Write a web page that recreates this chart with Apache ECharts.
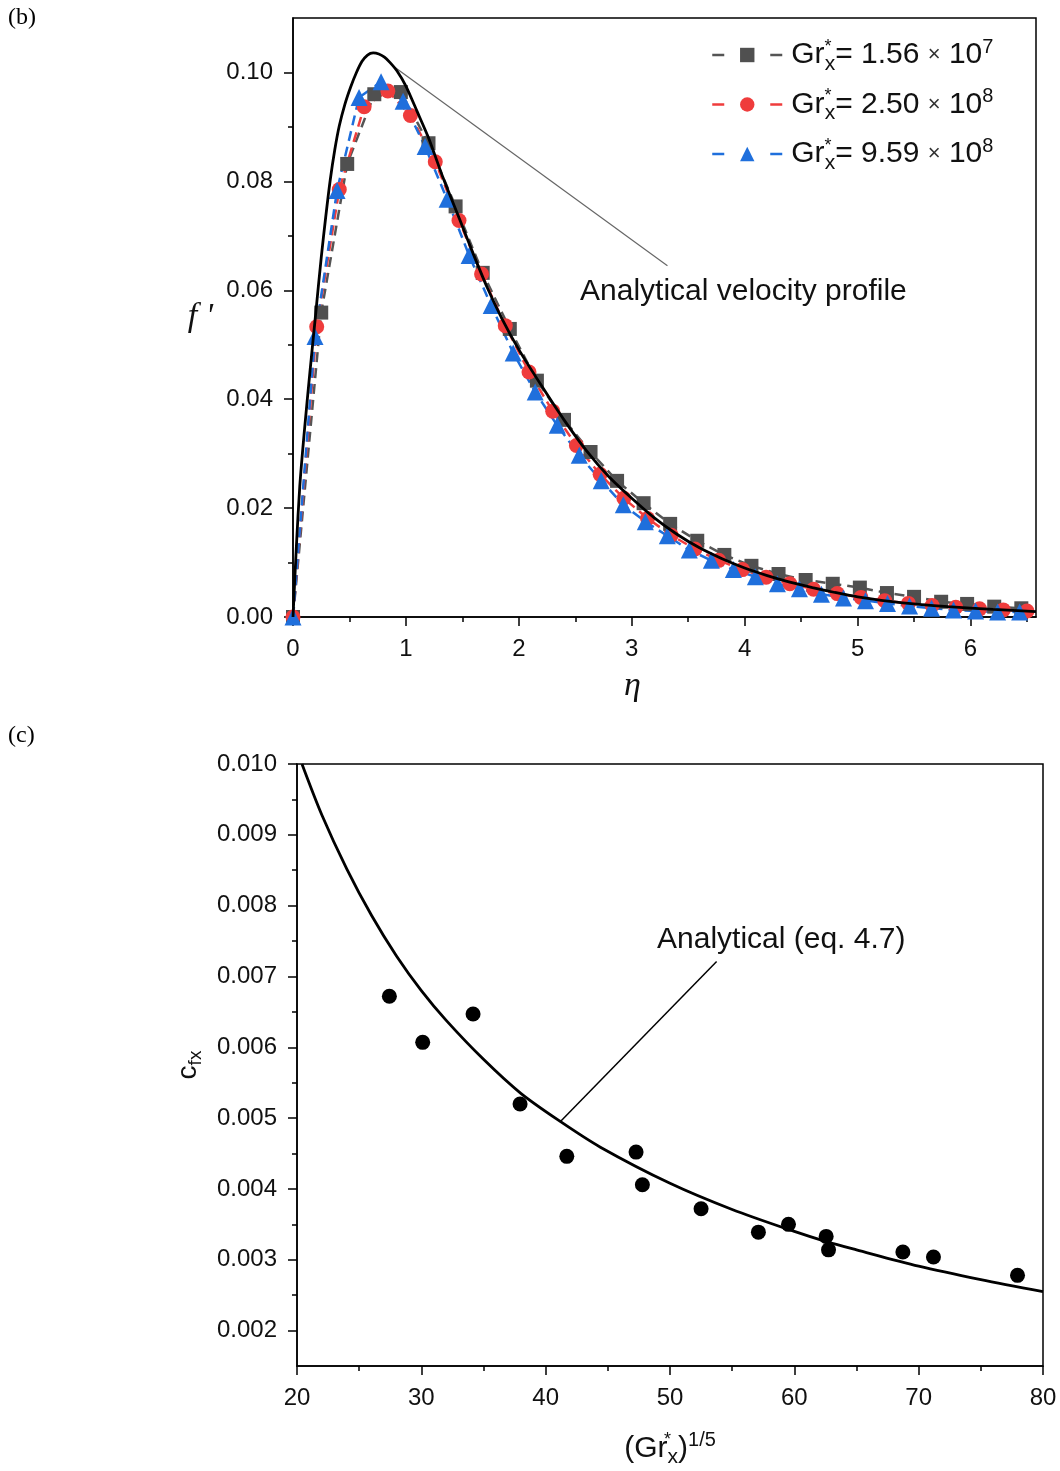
<!DOCTYPE html>
<html><head><meta charset="utf-8">
<script src="https://cdn.jsdelivr.net/npm/echarts@6/dist/echarts.min.js"></script>
<style>html,body{margin:0;padding:0;background:#fff}#c{width:1060px;height:1471px}</style>
</head><body><div id="c"></div>
<script>
// ---------- Panel (b) data ----------
const seriesNames = ['Gr1', 'Gr2', 'Gr3'];
const legendLabels = [
  '{g|Gr}{st|*}{sb|x}{g|= 1.56 }{tm|×}{g| 10}{sp|7}',
  '{g|Gr}{st|*}{sb|x}{g|= 2.50 }{tm|×}{g| 10}{sp|8}',
  '{g|Gr}{st|*}{sb|x}{g|= 9.59 }{tm|×}{g| 10}{sp|8}'
];
const grayEta = [0, 0.25, 0.48, 0.72, 0.955, 1.20, 1.44, 1.68, 1.92, 2.16, 2.40, 2.635, 2.87, 3.105, 3.34, 3.58, 3.82, 4.06, 4.30, 4.54, 4.78, 5.02, 5.26, 5.50, 5.74, 5.97, 6.21, 6.45];
const grayF   = [0, 0.0559, 0.0832, 0.0960, 0.0964, 0.0870, 0.0754, 0.0632, 0.0529, 0.0434, 0.0362, 0.0303, 0.0250, 0.0209, 0.0171, 0.0140, 0.0114, 0.0094, 0.0079, 0.0068, 0.0061, 0.0054, 0.0044, 0.0037, 0.0028, 0.0024, 0.0019, 0.0016];
const redEta = [0, 0.21, 0.41, 0.63, 0.84, 1.04, 1.26, 1.47, 1.67, 1.88, 2.09, 2.30, 2.51, 2.72, 2.93, 3.14, 3.35, 3.56, 3.77, 3.98, 4.19, 4.40, 4.61, 4.82, 5.03, 5.24, 5.45, 5.66, 5.87, 6.08, 6.29, 6.50];
const redF   = [0, 0.0533, 0.0785, 0.0937, 0.0966, 0.0921, 0.0836, 0.0728, 0.0630, 0.0535, 0.0450, 0.0378, 0.0315, 0.0262, 0.0218, 0.0181, 0.0150, 0.0125, 0.0104, 0.0087, 0.0073, 0.0061, 0.0051, 0.0043, 0.0036, 0.0030, 0.0025, 0.0021, 0.0018, 0.0015, 0.0013, 0.0011];
const blueEta = [0, 0.195, 0.39, 0.585, 0.78, 0.975, 1.17, 1.365, 1.56, 1.755, 1.95, 2.145, 2.34, 2.535, 2.73, 2.925, 3.12, 3.315, 3.51, 3.705, 3.90, 4.095, 4.29, 4.485, 4.68, 4.875, 5.07, 5.265, 5.46, 5.655, 5.85, 6.045, 6.24, 6.435];
const blueF   = [0, 0.0515, 0.0783, 0.0954, 0.0983, 0.0947, 0.0864, 0.0767, 0.0664, 0.0572, 0.0485, 0.0413, 0.0352, 0.0297, 0.0250, 0.0206, 0.0175, 0.0149, 0.0123, 0.0104, 0.0087, 0.0074, 0.0061, 0.0052, 0.0042, 0.0035, 0.0030, 0.0025, 0.0020, 0.0016, 0.0013, 0.0011, 0.0009, 0.0009];
const anaEta = [0, 0.03, 0.06, 0.1, 0.15, 0.2, 0.25, 0.29, 0.33, 0.37, 0.41, 0.46, 0.51, 0.56, 0.61, 0.66, 0.71, 0.76, 0.81, 0.86, 0.92, 1.0, 1.1, 1.2, 1.33, 1.48, 1.6, 1.72, 1.85, 2.0, 2.2, 2.4, 2.6, 2.8, 3.0, 3.2, 3.4, 3.6, 3.8, 4.0, 4.2, 4.4, 4.6, 4.8, 5.0, 5.4, 5.8, 6.2, 6.58];
const anaF   = [0, 0.013, 0.024, 0.034, 0.0450, 0.0555, 0.0660, 0.0735, 0.0803, 0.0858, 0.0902, 0.0942, 0.0973, 0.0999, 0.1020, 0.1032, 0.1036, 0.1034, 0.1028, 0.1018, 0.1003, 0.0975, 0.0928, 0.0880, 0.0806, 0.0728, 0.0665, 0.0605, 0.0548, 0.0491, 0.0425, 0.0362, 0.0305, 0.0257, 0.0218, 0.0182, 0.0152, 0.0127, 0.0107, 0.0090, 0.0076, 0.0064, 0.0054, 0.0045, 0.0037, 0.0026, 0.0019, 0.0014, 0.0010];
const leaderTopEta = [0.904, 3.316];
const leaderTopF   = [0.1009, 0.0645];
const bXTicks = [0, 1, 2, 3, 4, 5, 6];
const bXMinor = [0.5, 1.5, 2.5, 3.5, 4.5, 5.5, 6.5];
const bYTicks = [0, 0.02, 0.04, 0.06, 0.08, 0.10];
const bYMinor = [0.01, 0.03, 0.05, 0.07, 0.09];

// ---------- Panel (c) data ----------
const grX = [27.43, 30.11, 34.16, 37.94, 41.70, 47.27, 47.78, 52.50, 57.11, 59.53, 62.56, 62.75, 68.73, 71.19, 77.95];
const cfx = [0.00672, 0.00607, 0.00647, 0.00520, 0.00446, 0.00452, 0.00406, 0.00372, 0.00339, 0.00350, 0.00333, 0.00314, 0.00311, 0.00304, 0.00278];
const anaGrX = [20.4, 22, 24, 26, 28, 30, 32, 35, 38, 41.2, 44.4, 50, 55, 60, 62.5, 65, 70, 75, 80];
const anaCfx = [0.01000, 0.00928, 0.00852, 0.00786, 0.00729, 0.00680, 0.00638, 0.00583, 0.00535, 0.00495, 0.00459, 0.00408, 0.00371, 0.00340, 0.00326, 0.00314, 0.00291, 0.00272, 0.00255];
const leaderBotX = [41.21, 53.75];
const leaderBotY = [0.004955, 0.00721];
const cXTicks = [20, 30, 40, 50, 60, 70, 80];
const cXMinor = [25, 35, 45, 55, 65, 75];
const cYTicks = [0.002, 0.003, 0.004, 0.005, 0.006, 0.007, 0.008, 0.009, 0.010];
const cYMinor = [0.0025, 0.0035, 0.0045, 0.0055, 0.0065, 0.0075, 0.0085, 0.0095];

const zip = (a, b) => a.map((v, i) => [v, b[i]]);
const SANS = 'Liberation Sans, Arial, sans-serif';
const SERIF = 'Liberation Serif, Times New Roman, serif';
const axLine = { show: true, lineStyle: { color: '#000', width: 1.5 } };

function majorAxis(grid, min, max, ticks, fmt, extra) {
  return Object.assign({
    type: 'value', gridIndex: grid, min: min, max: max,
    axisLine: axLine,
    axisTick: { show: true, inside: false, length: 9, customValues: ticks, lineStyle: { color: '#000', width: 1.5 } },
    axisLabel: { show: true, customValues: ticks, formatter: fmt, fontSize: 24, fontFamily: SANS, color: '#111', margin: 20 },
    splitLine: { show: false }
  }, extra || {});
}
function minorAxis(grid, min, max, ticks, pos) {
  return {
    type: 'value', gridIndex: grid, min: min, max: max, position: pos,
    axisLine: { show: false },
    axisTick: { show: true, inside: false, length: 5, customValues: ticks, lineStyle: { color: '#000', width: 1.5 } },
    axisLabel: { show: false },
    splitLine: { show: false }
  };
}

const chart = echarts.init(document.getElementById('c'), null, { renderer: 'canvas' });
const rich = {
  g: { fontSize: 30, fontFamily: SANS, color: '#111' },
  tm: { fontSize: 22, fontFamily: SANS, color: '#333' },
  st: { fontSize: 18, fontFamily: SANS, color: '#111', width: 0.1, padding: [0, 0, 16, 0] },
  sb: { fontSize: 21, fontFamily: SANS, color: '#111', padding: [18, 0, 0, 0] },
  sp: { fontSize: 20, fontFamily: SANS, color: '#111', padding: [0, 0, 16, 0] },
  c: { fontSize: 28, fontFamily: SANS, color: '#111' }
};

chart.setOption({
  animation: false,
  backgroundColor: '#fff',
  grid: [
    { left: 293, top: 18, width: 743, height: 599, show: true, borderColor: '#000', borderWidth: 1.5, backgroundColor: 'transparent' },
    { left: 297, top: 764, width: 746, height: 602, show: true, borderColor: '#000', borderWidth: 1.5, backgroundColor: 'transparent' }
  ],
  legend: {
    data: seriesNames,
    orient: 'vertical', left: 706, top: 32,
    itemWidth: 70, itemHeight: 18, itemGap: 12,
    lineStyle: { type: [12, 46], width: 2.5 },
    formatter: name => legendLabels[seriesNames.indexOf(name)],
    textStyle: { fontSize: 30, fontFamily: SANS, color: '#111', rich: rich, padding: [0, 0, 0, 4] }
  },
  xAxis: [
    majorAxis(0, 0, 6.58, bXTicks, v => String(v), {
      name: 'η', nameLocation: 'middle', nameGap: 52,
      nameTextStyle: { fontFamily: SERIF, fontStyle: 'italic', fontSize: 34, color: '#111', padding: [0, 64, 0, 0] }
    }),
    minorAxis(0, 0, 6.58, bXMinor, 'bottom'),
    majorAxis(1, 20, 80, cXTicks, v => String(v), {
      name: '{p|(}{g|Gr}{st|*}{sb|x}{p|)}{sp|1/5}', nameLocation: 'middle', nameGap: 63,
      nameTextStyle: { fontSize: 30, fontFamily: SANS, color: '#111', rich: Object.assign({ p: { fontSize: 30, fontFamily: SANS, color: '#111' } }, rich) }
    }),
    minorAxis(1, 20, 80, cXMinor, 'bottom')
  ],
  yAxis: [
    majorAxis(0, 0, 0.11, bYTicks, v => v.toFixed(2), {
      name: "f '", nameLocation: 'middle', nameRotate: 0, nameGap: 80,
      nameTextStyle: { fontFamily: SERIF, fontStyle: 'italic', fontSize: 34, color: '#111' }
    }),
    minorAxis(0, 0, 0.11, bYMinor, 'left'),
    majorAxis(1, 0.0015, 0.010, cYTicks, v => v.toFixed(3), {
      name: '{c|c}{sb|fx}', nameLocation: 'middle', nameRotate: 90, nameGap: 92,
      nameTextStyle: { fontSize: 28, fontFamily: SANS, color: '#111', rich: { c: rich.c, sb: { fontSize: 19, fontFamily: SANS, color: '#111', padding: [14, 0, 0, 0] } } }
    }),
    minorAxis(1, 0.0015, 0.010, cYMinor, 'left')
  ],
  series: [
    { name: 'Analytical', type: 'line', xAxisIndex: 0, yAxisIndex: 0, data: zip(anaEta, anaF), showSymbol: false, symbol: 'none', smooth: 0.25, lineStyle: { color: '#000', width: 2.8 }, z: 5 },
    { name: 'leaderTop', type: 'line', xAxisIndex: 0, yAxisIndex: 0, data: zip(leaderTopEta, leaderTopF), symbol: 'none', lineStyle: { color: '#666', width: 1.2 }, silent: true },
    { name: seriesNames[0], type: 'line', xAxisIndex: 0, yAxisIndex: 0, data: zip(grayEta, grayF), symbol: 'rect', symbolSize: 14, lineStyle: { color: '#555', width: 2.5, type: [10, 6] }, itemStyle: { color: '#505050' }, z: 3 },
    { name: seriesNames[1], type: 'line', xAxisIndex: 0, yAxisIndex: 0, data: zip(redEta, redF), symbol: 'circle', symbolSize: 15, lineStyle: { color: '#ef3c3c', width: 2.5, type: [10, 6] }, itemStyle: { color: '#ef3c3c' }, z: 3 },
    { name: seriesNames[2], type: 'line', xAxisIndex: 0, yAxisIndex: 0, data: zip(blueEta, blueF), symbol: 'triangle', symbolSize: 17, lineStyle: { color: '#1f6fdc', width: 2.5, type: [10, 6] }, itemStyle: { color: '#1f6fdc' }, z: 3 },
    { name: 'cfx', type: 'scatter', xAxisIndex: 2, yAxisIndex: 2, data: zip(grX, cfx), symbol: 'circle', symbolSize: 15, itemStyle: { color: '#000', opacity: 1 } },
    { name: 'AnalyticalC', type: 'line', xAxisIndex: 2, yAxisIndex: 2, data: zip(anaGrX, anaCfx), symbol: 'none', smooth: 0.3, lineStyle: { color: '#000', width: 2.8 } },
    { name: 'leaderBot', type: 'line', xAxisIndex: 2, yAxisIndex: 2, data: zip(leaderBotX, leaderBotY), symbol: 'none', lineStyle: { color: '#000', width: 1.5 }, silent: true }
  ],
  graphic: [
    { type: 'text', x: 8, y: 6, style: { text: '(b)', fontFamily: SERIF, fontSize: 24, fill: '#000' } },
    { type: 'text', x: 8, y: 724, style: { text: '(c)', fontFamily: SERIF, fontSize: 24, fill: '#000' } },
    { type: 'text', x: 580, y: 292, style: { text: 'Analytical velocity profile', fontFamily: SANS, fontSize: 30, fill: '#111', verticalAlign: 'middle' } },
    { type: 'text', x: 657, y: 940, style: { text: 'Analytical (eq. 4.7)', fontFamily: SANS, fontSize: 30, fill: '#111', verticalAlign: 'middle' } }
  ]
});
</script>
</body></html>
